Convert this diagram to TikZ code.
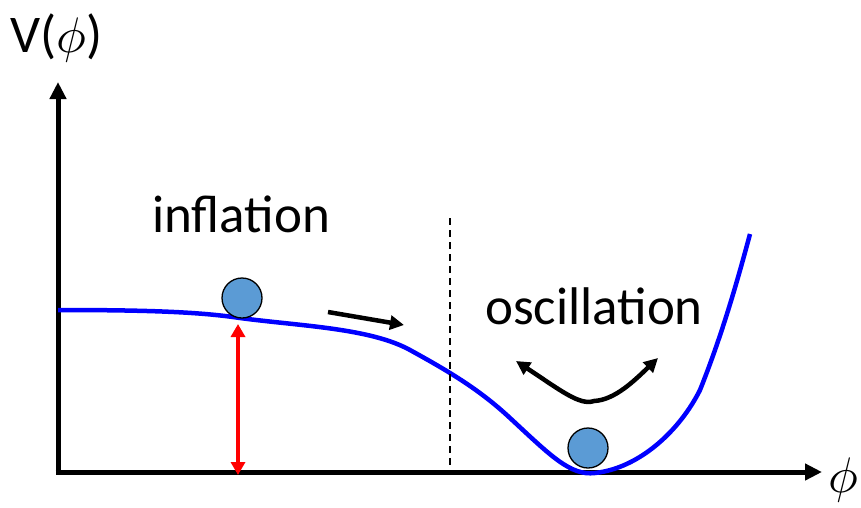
\documentclass[tikz,border=0pt]{standalone}
\usepackage{fontspec}
\setmainfont{Carlito}
\usetikzlibrary{arrows.meta}
\definecolor{ballblue}{HTML}{5B9BD5}
\newcommand{\bigphi}{\scalebox{5}{\fontsize{10}{12}\selectfont$\phi$}}
\begin{document}
\begin{tikzpicture}[x=1pt,y=-1pt,
  axis/.style={line width=5pt,-{Triangle[length=17pt,width=16pt]}},
  pot/.style={line width=4.5pt,blue},
  ball/.style={circle,draw=black,line width=1.3pt,fill=ballblue,minimum size=40pt,inner sep=0pt},
  lbl/.style={font=\fontsize{53}{56}\selectfont,inner sep=0pt},
  blk/.style={line width=4.5pt,-{Triangle[length=14pt,width=14pt]}}]
\useasboundingbox (0,0) rectangle (861,507);
\coordinate (O) at (58,472);
\coordinate (Y) at (58,82);
\coordinate (X) at (822,472);
\draw[axis] (O) -- (Y);
\draw[axis] ([xshift=-2.5pt]O) -- (X);
\node[lbl,anchor=base west] (vlab) at (10,52) {V(\bigphi)};
\node[lbl,anchor=base east] (plab) at (858,492) {\bigphi};
\draw[pot] (58,310) .. controls (150,310) and (200,312) .. (240,318)
  .. controls (300,326) and (370,328) .. (410,350)
  .. controls (450,372) and (480,390) .. (510,418)
  .. controls (550,455) and (570,476) .. (595,473)
  .. controls (640,468) and (680,430) .. (700,390)
  .. controls (720,340) and (735,290) .. (750,234);
\node[ball] (b1) at (242,298) {};
\node[ball] (b2) at (588,448) {};
\coordinate (r1) at (238,324);
\coordinate (r2) at (238,475);
\draw[red,line width=4pt,{Triangle[length=13pt,width=14pt]}-{Triangle[length=13pt,width=14pt]}] (r1) -- (r2);
\coordinate (a1) at (328,312);
\coordinate (a2) at (404,325);
\draw[blk] (a1) -- (a2);
\coordinate (c1) at (516,361);
\coordinate (c2) at (658,358);
\draw[line width=4.5pt,{Triangle[length=14pt,width=14pt]}-{Triangle[length=14pt,width=14pt]}] (c1) .. controls (560,390) and (580,406) .. (594,401) .. controls (615,400) and (635,380) .. (c2);
\coordinate (d1) at (450,218);
\coordinate (d2) at (450,466);
\draw[line width=1.5pt,dash pattern=on 7pt off 5pt] (d1) -- (d2);
\node[lbl,anchor=base] (infl) at (241,232) {inflation};
\node[lbl,anchor=base] (osc) at (594,324) {oscillation};
\end{tikzpicture}
\end{document}
